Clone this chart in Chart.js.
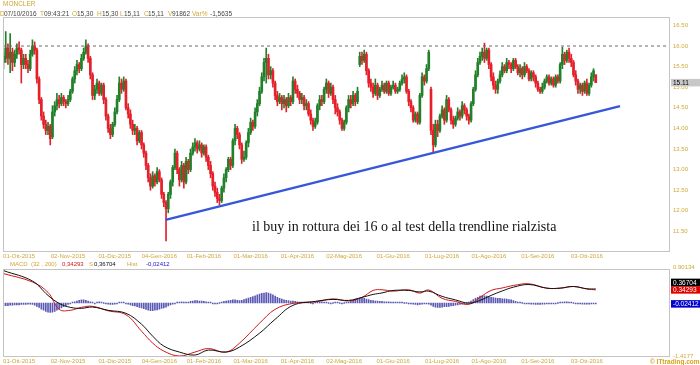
<!DOCTYPE html>
<html>
<head>
<meta charset="utf-8">
<script src="https://cdn.jsdelivr.net/npm/chart.js@4.4.0/dist/chart.umd.min.js"></script>
<style>
  html, body { margin: 0; padding: 0; background: #fff; }
  body { width: 700px; height: 365px; position: relative; overflow: hidden;
         font-family: "Liberation Sans", Arial, sans-serif; }
  canvas { position: absolute; left: 0; }
  #cPrice { top: 0; }
  #cMacd { top: 262px; }
  .t { position: absolute; white-space: nowrap; font-size: 6.5px; line-height: 1; }
  .s { font-size: 6px; }
  .g { color: #cfa838; }
  .k { color: #444; }
  #note { position: absolute; left: 252px; top: 219px; white-space: nowrap;
          font-family: "Liberation Serif", "Times New Roman", serif; font-size: 14px; color: #111; }
</style>
</head>
<body>
<canvas id="cPrice" width="700" height="262"></canvas>
<canvas id="cMacd" width="700" height="103"></canvas>

<!-- intestazione -->
<div class="t g" style="left:3px;top:1px">MONCLER</div>
<div class="t g" style="left:0px;top:10.5px">D</div><div class="t k" style="left:4px;top:10.5px">07/10/2016</div>
<div class="t g" style="left:40px;top:10.5px">T</div><div class="t k" style="left:44px;top:10.5px">09:43:21</div>
<div class="t g" style="left:72px;top:10.5px">O</div><div class="t k" style="left:77px;top:10.5px">15,30</div>
<div class="t g" style="left:97px;top:10.5px">H</div><div class="t k" style="left:102px;top:10.5px">15,30</div>
<div class="t g" style="left:120px;top:10.5px">L</div><div class="t k" style="left:124px;top:10.5px">15,11</div>
<div class="t g" style="left:144px;top:10.5px">C</div><div class="t k" style="left:148px;top:10.5px">15,11</div>
<div class="t g" style="left:168px;top:10.5px">V</div><div class="t k" style="left:172px;top:10.5px">91862</div>
<div class="t g" style="left:192px;top:10.5px">Var%</div><div class="t k" style="left:210px;top:10.5px">-1,5635</div>

<!-- legenda MACD -->
<div class="t s g" style="left:10px;top:260.5px">MACD</div>
<div class="t s g" style="left:31px;top:260.5px">(32 , 200)</div>
<div class="t s" style="left:62px;top:260.5px;color:#d01818">0,34293</div>
<div class="t s g" style="left:89px;top:260.5px">S</div>
<div class="t s" style="left:94px;top:260.5px;color:#111">0,36704</div>
<div class="t s g" style="left:127px;top:260.5px">Hist</div>
<div class="t s" style="left:146px;top:260.5px;color:#2020c0">-0,02412</div>

<div class="t" style="left:650px;top:358.5px;color:#d9a21b;font-weight:bold">© ITtrading.com</div>

<div id="note">il buy in rottura dei 16 o al test della trendline rialzista</div>

<script>
// ---- dati (1 candela = 1 seduta, indice 0 = 22-Set-2015) ----
const opens = [
  15.60,15.70,15.95,15.70,15.85,15.60,15.80,            // 0
  15.95,15.90,15.55,15.70,15.55,15.45,15.80,            // 7
  16.00,15.90,15.20,                                    // 14
  14.70,14.30,14.10,13.95,14.05,                        // 17
  13.80,14.40,14.55,14.70,14.60,14.75,14.65,14.60,      // 22
  14.70,14.90,15.20,15.40,15.55,15.45,15.70,15.85,      // 30
  16.00,15.70,15.30,                                    // 38
  14.80,14.95,15.10,14.85,                              // 41
  15.05,14.70,14.30,14.00,13.85,                        // 45
  14.10,14.40,14.70,15.10,                              // 50
  14.95,15.15,                                          // 54
  14.50,14.35,14.10,13.95,                              // 56
  14.00,13.70,13.90,13.60,                              // 60
  13.40,13.10,12.80,                                    // 64
  12.60,12.85,12.70,12.95,                              // 67
  12.75,12.40,12.20,                                    // 71
  12.05,12.40,12.70,13.05,                              // 74
  13.40,13.00,12.75,13.10,12.70,13.20,13.00,            // 78
  13.40,13.55,13.65,13.50,13.60,13.40,13.55,            // 85
  13.30,13.10,12.90,12.60,12.45,12.30,                  // 92
  12.25,12.55,12.80,13.00,13.25,                        // 98
  13.10,13.70,14.00,                                    // 103
  13.85,13.60,13.25,                                    // 106
  13.30,13.65,13.90,14.15,14.05,14.40,                  // 109
  14.60,14.90,15.25,                                    // 115
  15.60,15.70,                                          // 118
  15.30,15.40,15.10,14.80,14.65,                        // 120
  14.75,14.60,14.70,14.55,14.75,14.65,                  // 125
  15.15,14.95,14.85,14.70,14.75,14.55,                  // 131
  14.60,14.35,14.20,14.05,                              // 137
  14.15,14.55,14.70,14.65,14.95,                        // 141
  15.10,14.85,15.00,14.70,14.50,                        // 146
  14.40,14.20,14.00,                                    // 151
  14.15,14.50,14.70,14.60,14.80,14.65,                  // 154
  15.55,15.75,15.65,                                    // 160
  15.80,15.40,15.10,                                    // 163
  15.00,14.85,15.05,                                    // 166
  14.80,14.95,15.05,14.90,15.10,14.85,15.00,15.05,14.90,14.95,15.10, // 169
  15.20,15.25,14.90,                                    // 180
  14.65,14.50,14.20,14.35,                              // 183
  14.15,14.80,15.25,                                    // 187
  15.15,15.45,                                          // 190
  14.95,13.95,13.60,                                    // 192
  14.10,13.95,14.30,14.45,                              // 195
  14.20,14.70,14.45,14.20,                              // 199
  14.10,14.25,14.40,14.30,14.55,14.45,14.30,            // 203
  14.20,14.60,14.95,15.30,15.60,                        // 210
  15.75,15.85,15.70,                                    // 215
  15.90,15.55,15.25,15.05,                              // 218
  14.95,15.15,                                          // 222
  15.30,15.50,15.40,15.60,15.55,15.45,15.65,15.50,      // 224
  15.35,15.45,15.30,15.50,15.40,15.20,15.35,            // 232
  15.25,15.10,14.95,14.90,                              // 239
  15.00,15.15,15.25,15.10,15.20,15.05,15.25,            // 243
  15.15,15.55,                                          // 250
  15.80,15.65,15.85,15.70,                              // 252
  15.60,15.30,15.15,14.95,                              // 256
  15.05,14.90,15.10,14.85,                              // 260
  15.05,15.25,                                          // 264
  15.30                                                 // 266
];
const highs = [
  15.85,16.35,16.05,16.30,15.95,15.90,16.05,
  16.10,15.95,15.80,15.80,15.65,15.90,16.15,
  16.10,15.95,15.25,
  14.75,14.40,14.20,14.15,14.10,
  14.55,14.65,14.85,14.80,14.85,14.80,14.70,14.80,
  14.95,15.25,15.50,15.65,15.60,15.80,15.95,16.15,
  16.05,15.75,15.35,
  15.05,15.20,15.15,15.10,
  15.10,14.75,14.35,14.10,14.15,
  14.50,14.80,15.25,15.20,
  15.25,15.20,
  14.60,14.45,14.20,14.10,
  14.05,13.95,13.95,13.65,
  13.45,13.15,12.90,
  12.95,12.90,13.05,13.00,
  12.80,12.45,12.25,
  12.45,12.75,13.10,13.50,
  13.45,13.05,13.20,13.15,13.30,13.25,13.50,
  13.65,13.75,13.70,13.70,13.65,13.60,13.60,
  13.35,13.20,12.95,12.70,12.55,12.40,
  12.60,12.90,13.05,13.30,13.30,
  13.75,14.10,14.05,
  13.90,13.65,13.45,
  13.70,14.00,14.25,14.20,14.50,14.70,
  15.00,15.35,15.70,
  15.95,15.80,
  15.50,15.45,15.15,14.90,14.85,
  14.80,14.80,14.75,14.85,14.80,15.25,
  15.20,15.05,14.90,14.85,14.80,14.70,
  14.65,14.45,14.25,14.25,
  14.60,14.80,14.80,15.00,15.20,
  15.15,15.10,15.05,14.80,14.60,
  14.45,14.25,14.20,
  14.55,14.80,14.80,14.90,14.85,15.00,
  15.85,15.85,15.90,
  15.85,15.45,15.20,
  15.10,15.20,15.10,
  15.00,15.15,15.10,15.15,15.15,15.05,15.15,15.10,15.00,15.15,15.30,
  15.35,15.30,14.95,
  14.70,14.55,14.40,14.40,
  14.85,15.35,15.30,
  15.55,15.90,
  15.00,14.10,14.20,
  14.20,14.35,14.55,14.50,
  14.80,14.75,14.50,14.30,
  14.30,14.50,14.45,14.65,14.60,14.50,14.35,
  14.65,15.00,15.40,15.70,15.85,
  15.95,16.07,15.95,
  15.95,15.60,15.35,15.15,
  15.20,15.40,
  15.60,15.55,15.70,15.65,15.60,15.70,15.70,15.55,
  15.55,15.50,15.60,15.55,15.45,15.40,15.40,
  15.30,15.15,15.00,15.10,
  15.20,15.30,15.30,15.25,15.25,15.30,15.30,
  15.60,15.97,
  15.85,15.90,15.95,15.80,
  15.65,15.40,15.20,15.10,
  15.10,15.15,15.20,15.10,
  15.35,15.45,
  15.30
];
const lows = [
  15.45,15.60,15.55,15.35,15.40,15.50,15.70,
  15.80,15.10,15.45,15.45,15.35,15.40,15.75,
  15.80,15.10,14.60,
  14.20,14.00,13.85,13.85,13.60,
  13.75,14.30,14.45,14.50,14.55,14.55,14.50,14.55,
  14.65,14.85,15.10,15.30,15.35,15.40,15.65,15.80,
  15.60,15.20,14.70,
  14.70,14.85,14.80,14.80,
  14.60,14.20,13.90,13.75,13.80,
  14.05,14.35,14.65,14.85,
  14.90,14.45,
  14.25,14.00,13.85,13.85,
  13.60,13.65,13.50,13.30,
  13.00,12.70,12.50,
  12.55,12.60,12.65,12.70,
  12.30,12.10,11.27,
  11.95,12.30,12.60,13.00,
  12.90,12.60,12.70,12.55,12.65,12.90,12.95,
  13.35,13.45,13.40,13.45,13.30,13.35,13.20,
  13.00,12.80,12.50,12.35,12.20,12.14,
  12.20,12.45,12.70,12.95,13.00,
  13.05,13.60,13.75,
  13.50,13.15,13.20,
  13.25,13.55,13.85,13.95,14.00,14.30,
  14.55,14.85,15.15,
  15.10,15.20,
  15.20,15.00,14.70,14.55,14.60,
  14.45,14.50,14.40,14.50,14.55,14.60,
  14.85,14.75,14.60,14.60,14.45,14.45,
  14.30,14.10,13.95,14.00,
  14.10,14.45,14.55,14.60,14.85,
  14.75,14.80,14.60,14.35,14.30,
  14.10,13.95,13.95,
  14.10,14.40,14.50,14.55,14.55,14.60,
  15.50,15.55,15.60,
  15.30,15.00,14.90,
  14.75,14.80,14.70,
  14.75,14.90,14.85,14.85,14.80,14.80,14.95,14.85,14.85,14.90,15.05,
  15.10,14.85,14.55,
  14.40,14.15,14.15,14.10,
  14.10,14.75,15.05,
  15.10,15.40,
  13.85,13.43,13.55,
  13.80,13.90,14.25,14.10,
  14.15,14.40,14.10,14.00,
  14.05,14.20,14.20,14.25,14.35,14.20,14.10,
  14.15,14.55,14.90,15.25,15.55,
  15.65,15.60,15.65,
  15.45,15.15,14.95,14.85,
  14.85,15.10,
  15.25,15.35,15.35,15.45,15.35,15.40,15.45,15.30,
  15.25,15.20,15.25,15.35,15.15,15.15,15.15,
  15.00,14.90,14.85,14.85,
  14.95,15.10,15.05,15.05,15.00,15.00,15.10,
  15.10,15.45,
  15.55,15.60,15.60,15.50,
  15.25,15.05,14.85,14.85,
  14.80,14.85,14.80,14.80,
  15.00,15.15,
  15.11
];
const closes = [
  15.75,15.95,15.70,15.85,15.60,15.80,15.95,
  15.90,15.55,15.70,15.55,15.45,15.80,16.00,
  15.90,15.20,14.70,
  14.30,14.10,13.95,14.05,13.75,
  14.40,14.55,14.70,14.60,14.75,14.65,14.60,14.70,
  14.90,15.20,15.40,15.55,15.45,15.70,15.85,16.00,
  15.70,15.30,14.80,
  14.95,15.10,14.85,15.05,
  14.70,14.30,14.00,13.85,14.10,
  14.40,14.70,15.10,14.95,
  15.15,14.50,
  14.35,14.10,13.95,14.00,
  13.70,13.90,13.60,13.40,
  13.10,12.80,12.60,
  12.85,12.70,12.95,12.75,
  12.40,12.20,12.05,
  12.40,12.70,13.05,13.40,
  13.00,12.75,13.10,12.70,13.20,13.00,13.40,
  13.55,13.65,13.50,13.60,13.40,13.55,13.30,
  13.10,12.90,12.60,12.45,12.30,12.25,
  12.55,12.80,13.00,13.25,13.10,
  13.70,14.00,13.85,
  13.60,13.25,13.30,
  13.65,13.90,14.15,14.05,14.40,14.60,
  14.90,15.25,15.60,
  15.70,15.30,
  15.40,15.10,14.80,14.65,14.75,
  14.60,14.70,14.55,14.75,14.65,15.15,
  14.95,14.85,14.70,14.75,14.55,14.60,
  14.35,14.20,14.05,14.15,
  14.55,14.70,14.65,14.95,15.10,
  14.85,15.00,14.70,14.50,14.40,
  14.20,14.00,14.15,
  14.50,14.70,14.60,14.80,14.65,14.90,
  15.75,15.65,15.80,
  15.40,15.10,15.00,
  14.85,15.05,14.80,
  14.95,15.05,14.90,15.10,14.85,15.00,15.05,14.90,14.95,15.10,15.20,
  15.25,14.90,14.65,
  14.50,14.20,14.35,14.15,
  14.80,15.25,15.15,
  15.45,15.85,
  13.95,13.60,14.10,
  13.95,14.30,14.45,14.20,
  14.70,14.45,14.20,14.10,
  14.25,14.40,14.30,14.55,14.45,14.30,14.20,
  14.60,14.95,15.30,15.60,15.75,
  15.85,15.70,15.90,
  15.55,15.25,15.05,14.95,
  15.15,15.30,
  15.50,15.40,15.60,15.55,15.45,15.65,15.50,15.35,
  15.45,15.30,15.50,15.40,15.20,15.35,15.25,
  15.10,14.95,14.90,15.00,
  15.15,15.25,15.10,15.20,15.05,15.25,15.15,
  15.55,15.80,
  15.65,15.85,15.70,15.60,
  15.30,15.15,14.95,15.05,
  14.90,15.10,14.85,15.05,
  15.25,15.40,
  15.11
];

// istogramma MACD, una barra per seduta
const macdHist = [
  -0.08,-0.07,-0.07,-0.06,-0.06,-0.05,-0.05,-0.05,-0.04,-0.04,-0.04,-0.03,-0.03,-0.04,-0.06,-0.09,-0.12,
  -0.16,-0.19,-0.22,-0.24,-0.25,-0.24,-0.22,-0.19,-0.16,
  -0.13,-0.10,-0.07,-0.04,-0.02,0.01,0.03,
  0.05,0.07,0.08,0.08,0.07,0.05,0.03,
  0.01,-0.01,0.02,0.03,0.02,0.00,-0.02,-0.03,-0.04,
  -0.04,-0.03,-0.01,0.01,0.02,0.01,-0.01,-0.03,
  -0.05,-0.07,-0.08,-0.10,-0.12,-0.13,-0.15,-0.17,-0.19,-0.20,-0.20,-0.19,-0.18,-0.16,-0.14,-0.13,-0.11,-0.08,-0.05,
  -0.03,-0.01,0.01,0.02,0.03,0.02,0.01,0.02,0.04,
  0.05,0.06,0.06,0.05,0.05,0.04,0.03,0.02,0.01,-0.01,-0.02,
  -0.01,0.00,0.02,0.04,0.05,0.06,0.07,0.08,0.08,0.07,
  0.06,0.07,0.09,0.11,0.13,0.15,0.17,0.19,0.21,0.23,0.25,0.26,0.27,0.26,0.24,0.21,0.18,0.15,0.12,
  0.10,0.08,0.07,0.06,0.05,0.05,0.04,0.03,0.02,
  0.01,0.01,0.02,0.01,0.00,-0.01,0.01,0.02,0.02,0.03,0.02,0.01,0.00,-0.01,0.00,0.01,0.01,0.00,-0.01,0.00,0.01,0.02,0.04,
  0.07,0.10,0.12,0.13,0.13,0.12,0.10,0.09,0.07,
  0.06,0.05,0.05,0.04,0.04,0.03,0.03,0.03,0.02,0.02,0.02,0.01,0.01,0.01,0.00,0.00,-0.01,-0.02,
  -0.03,-0.04,-0.05,-0.04,-0.03,-0.02,-0.01,
  -0.03,-0.06,-0.09,-0.11,-0.12,-0.12,-0.11,-0.10,-0.10,-0.09,-0.08,-0.07,-0.06,-0.05,-0.04,-0.03,-0.02,0.00,0.02,
  0.05,0.09,0.12,0.15,0.18,0.19,0.19,0.18,0.17,0.15,0.14,0.13,0.12,0.12,0.11,0.11,0.10,0.09,
  0.08,0.06,0.04,0.02,0.01,0.00,-0.01,-0.02,-0.02,-0.03,-0.03,-0.04,-0.04,
  -0.04,-0.03,-0.03,-0.02,-0.02,-0.01,-0.01,-0.01,0.00,0.01,0.02,0.03,0.03,0.02,0.01,0.00,-0.01,-0.02,-0.02,-0.03,-0.03,-0.03,-0.03,-0.02,-0.02,-0.02412
];

// linee MACD e segnale, lette ogni qualche seduta
const macdIdx = [0,13,20,25,30,35,40,47,55,62,67,72,79,86,92,100,106,115,122,130,
  140,148,155,161,166,170,175,182,187,191,197,203,209,214,219,224,229,236,244,250,256,262,266];
const macdLine = [0.771,0.549,0.276,-0.167,-0.193,-0.115,-0.089,-0.206,-0.310,-0.740,
  -1.053,-1.262,-1.392,-1.288,-1.196,-1.288,-1.053,-0.532,-0.167,-0.011,
  0.028,0.107,0.054,0.146,0.328,0.346,0.310,0.346,0.258,0.341,
  0.120,0.041,-0.037,0.146,0.328,0.393,0.458,0.503,0.388,0.388,0.432,0.367,0.34293];
const signalLine = [0.849,0.575,0.198,-0.011,-0.115,-0.141,-0.107,-0.193,-0.271,-0.558,
  -0.871,-1.131,-1.288,-1.366,-1.236,-1.288,-1.157,-0.793,-0.428,-0.063,
  0.041,0.093,0.067,0.146,0.224,0.263,0.328,0.328,0.289,0.310,
  0.172,0.080,-0.006,0.067,0.198,0.315,0.414,0.484,0.388,0.388,0.432,0.372,0.36704];

// trendline rialzista (da minimo di gennaio) e resistenza a 16
const trendIdx = [72.8, 276.9];
const trendVal = [11.78, 14.54];
const resistance = 16.00;

// assi
const tickIdx = [7, 29, 50, 70, 90, 111, 132, 153, 175, 197, 218, 240, 262];
const tickLabels = ['01-Ott-2015','02-Nov-2015','01-Dic-2015','04-Gen-2016','01-Feb-2016','01-Mar-2016',
  '01-Apr-2016','02-Mag-2016','01-Giu-2016','01-Lug-2016','01-Ago-2016','01-Set-2016','03-Ott-2016'];
const priceTicks = [11.5, 12, 12.5, 13, 13.5, 14, 14.5, 15, 15.5, 16, 16.5];
const macdTicks = [-1.4177, 0.90134];
const macdTickLabels = ['-1.4177', '0.90134'];

const X_MIN = -0.22, X_MAX = 299.34;
const GOLD = '#cfa838';
const UP = '#23802a', DOWN = '#e4202a';
const FONT = { family: '"Liberation Sans", Arial, sans-serif', size: 6 };

// cornice grigia attorno all'area del grafico
const framePlugin = {
  id: 'frame',
  afterDraw(chart) {
    const { ctx, chartArea: a } = chart;
    ctx.save();
    ctx.strokeStyle = '#c4c4c4';
    ctx.lineWidth = 1;
    ctx.strokeRect(Math.round(a.left) + 0.5, Math.round(a.top) + 0.5,
                   Math.round(a.width) - 1, Math.round(a.height) - 1);
    ctx.restore();
  }
};

// etichette-valore sull'asse destro (ultimo prezzo, MACD, segnale, hist)
function valueBoxes(items) {
  return {
    id: 'valueBoxes',
    afterDraw(chart) {
      const { ctx, chartArea: a } = chart;
      const ys = chart.scales.y;
      const h = 7.5;
      const placed = {};
      ctx.save();
      ctx.font = '6.5px "Liberation Sans", Arial, sans-serif';
      ctx.textBaseline = 'middle';
      for (const it of items) {
        let y = ys.getPixelForValue(it.value);
        if (it.above && placed[it.above] !== undefined) y = Math.min(y, placed[it.above] - h);
        placed[it.key] = y;
        ctx.fillStyle = it.bg;
        ctx.fillRect(a.right + 1, y - h / 2, chart.width - a.right - 1, h);
        ctx.fillStyle = it.fg;
        ctx.fillText(it.text, a.right + 3, y + 0.5);
      }
      ctx.restore();
    }
  };
}

const xScale = (extra) => Object.assign({
  type: 'linear',
  min: X_MIN,
  max: X_MAX,
  offset: false,
  grid: { display: false, drawTicks: false },
  border: { display: false },
  afterBuildTicks: (s) => { s.ticks = tickIdx.map(v => ({ value: v })); },
  ticks: {
    autoSkip: false, maxRotation: 0, padding: 1, color: GOLD, font: FONT,
    callback: (v, i) => tickLabels[i]
  }
}, extra);

const candleColor = (c) => closes[c.dataIndex] >= opens[c.dataIndex] ? UP : DOWN;

// ---------------- grafico prezzi ----------------
new Chart(document.getElementById('cPrice'), {
  type: 'bar',
  data: {
    datasets: [
      {
        type: 'line', order: 0,
        data: trendIdx.map((x, i) => ({ x, y: trendVal[i] })),
        borderColor: '#3658d8', borderWidth: 2.5, pointRadius: 0
      },
      {
        type: 'line', order: 1,
        data: [{ x: X_MIN, y: resistance }, { x: X_MAX, y: resistance }],
        borderColor: '#6a6a6a', borderWidth: 1, borderDash: [3, 3], pointRadius: 0
      },
      {
        order: 2, grouped: false, barThickness: 2,
        data: closes.map((c, i) => ({ x: i, y: [opens[i], c] })),
        backgroundColor: candleColor, minBarLength: 1
      },
      {
        order: 3, grouped: false, barThickness: 1,
        data: closes.map((c, i) => ({ x: i, y: [lows[i], highs[i]] })),
        backgroundColor: candleColor
      }
    ]
  },
  options: {
    responsive: false,
    animation: false,
    events: [],
    layout: { padding: { top: 17, left: 3, right: 0, bottom: 0 } },
    plugins: { legend: { display: false }, tooltip: { enabled: false } },
    scales: {
      x: xScale({ afterFit: (s) => { s.height = 10; } }),
      y: {
        position: 'right',
        min: 11.0,
        max: 16.704,
        grid: { display: false, drawTicks: false },
        border: { display: false },
        afterBuildTicks: (s) => { s.ticks = priceTicks.map(v => ({ value: v })); },
        afterFit: (s) => { s.width = 30; },
        ticks: { padding: 3, color: GOLD, font: FONT, callback: (v) => v.toFixed(2) }
      }
    }
  },
  plugins: [framePlugin, valueBoxes([
    { key: 'last', value: closes[closes.length - 1], text: '15.11', bg: '#c8c8c8', fg: '#000' }
  ])]
});

// ---------------- grafico MACD ----------------
new Chart(document.getElementById('cMacd'), {
  type: 'bar',
  data: {
    datasets: [
      {
        type: 'line', order: 0,
        data: macdIdx.map((x, i) => ({ x, y: signalLine[i] })),
        borderColor: '#111', borderWidth: 1, pointRadius: 0, tension: 0.4
      },
      {
        type: 'line', order: 1,
        data: macdIdx.map((x, i) => ({ x, y: macdLine[i] })),
        borderColor: '#d01818', borderWidth: 1, pointRadius: 0, tension: 0.4
      },
      {
        order: 2, grouped: false, barThickness: 1, minBarLength: 1,
        data: macdHist.map((v, i) => ({ x: i, y: v })),
        backgroundColor: '#5a5ab4'
      }
    ]
  },
  options: {
    responsive: false,
    animation: false,
    events: [],
    layout: { padding: { top: 6, left: 3, right: 0, bottom: 0 } },
    plugins: { legend: { display: false }, tooltip: { enabled: false } },
    scales: {
      x: xScale({ afterFit: (s) => { s.height = 8; } }),
      y: {
        position: 'right',
        min: macdTicks[0],
        max: macdTicks[1],
        grid: { display: false, drawTicks: false },
        border: { display: false },
        afterBuildTicks: (s) => { s.ticks = macdTicks.map(v => ({ value: v })); },
        afterFit: (s) => { s.width = 30; },
        ticks: { padding: 3, labelOffset: -1, color: GOLD, font: FONT, callback: (v, i) => macdTickLabels[i] }
      }
    }
  },
  plugins: [framePlugin, valueBoxes([
    { key: 'macd', value: macdLine[macdLine.length - 1], text: '0.34293', bg: '#e00000', fg: '#fff' },
    { key: 'sig', above: 'macd', value: signalLine[signalLine.length - 1], text: '0.36704', bg: '#000', fg: '#fff' },
    { key: 'hist', value: macdHist[macdHist.length - 1], text: '-0.02412', bg: '#0000d0', fg: '#fff' }
  ])]
});
</script>
</body>
</html>
